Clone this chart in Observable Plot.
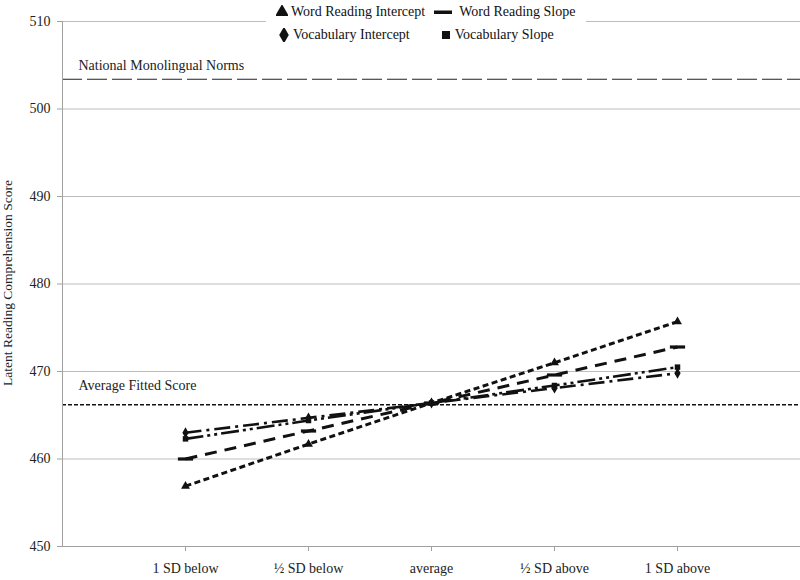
<!DOCTYPE html>
<html>
<head>
<meta charset="utf-8">
<script src="https://cdn.jsdelivr.net/npm/d3@7"></script>
<script src="https://cdn.jsdelivr.net/npm/@observablehq/plot@0.6"></script>
<style>
  html, body { margin: 0; padding: 0; background: #fff; }
  #wrap { position: relative; width: 800px; height: 580px; font-family: "Liberation Serif", serif; }
  #legend { position: absolute; left: 266px; top: 0px; width: 320px; background: #fff; font-size: 14px; color: #111; line-height: 23px; font-family: "Liberation Serif", serif; }
  #legend .row { display: flex; white-space: nowrap; }
  #legend .item { display: flex; align-items: center; }
  #legend svg { margin-right: 3px; }
  #chart svg, #chart svg text { font-family: "Liberation Serif", serif !important; }
</style>
</head>
<body>
<div id="wrap">
  <div id="chart"></div>
  <div id="legend"></div>
</div>
<script>
const categories = ["1 SD below", "½ SD below", "average", "½ SD above", "1 SD above"];
const wordReadingIntercept = [456.9, 461.7, 466.4, 471.0, 475.7];
const wordReadingSlope = [460.0, 463.2, 466.4, 469.6, 472.8];
const vocabularyIntercept = [463.0, 464.7, 466.4, 468.1, 469.8];
const vocabularySlope = [462.3, 464.4, 466.4, 468.4, 470.5];
const nationalNorms = 503.4;
const averageFitted = 466.2;
const yTicks = [450, 460, 470, 480, 490, 500, 510];

const barSymbol = { draw(ctx, size) { const w = Math.sqrt(size) * 1.3, h = 1.6; ctx.moveTo(-w, -h); ctx.lineTo(w, -h); ctx.lineTo(w, h); ctx.lineTo(-w, h); ctx.closePath(); } };

const series = [
  { name: "Word Reading Intercept", values: wordReadingIntercept, dash: "6,3.5", width: 3, symbol: "triangle", r: 3.3 },
  { name: "Word Reading Slope", values: wordReadingSlope, dash: "12,8", width: 3, symbol: barSymbol, r: 3.3 },
  { name: "Vocabulary Intercept", values: vocabularyIntercept, dash: "16,5,3,5", width: 2.6, symbol: "diamond", r: 3.3 },
  { name: "Vocabulary Slope", values: vocabularySlope, dash: "18,4,3,4,3,4", width: 2.6, symbol: "square", r: 3.1 }
];

const rows = series.flatMap(s => s.values.map((v, i) => ({ series: s.name, cat: categories[i], value: v })));

const marks = [
  Plot.gridY(yTicks, { stroke: "#bdbdbd", strokeOpacity: 1, strokeWidth: 1 }),
  Plot.ruleY([450], { stroke: "#a0a0a0" }),
  Plot.axisY(yTicks, { tickSize: 5, tickPadding: 7, stroke: "#a0a0a0", fill: "#222", fontSize: 14, label: null }),
  Plot.axisX({ tickSize: 5, tickPadding: 12, stroke: "#a0a0a0", fill: "#222", fontSize: 14, label: null }),
  Plot.ruleY([nationalNorms], { stroke: "#222", strokeWidth: 1.2, strokeDasharray: "20,5" }),
  Plot.ruleY([averageFitted], { stroke: "#111", strokeWidth: 1.5, strokeDasharray: "4,2" }),
  Plot.text(["National Monolingual Norms"], { y: [nationalNorms], frameAnchor: "left", dx: 16, dy: -14, textAnchor: "start", fontSize: 14, fill: "#222" }),
  Plot.text(["Average Fitted Score"], { y: [averageFitted], frameAnchor: "left", dx: 16, dy: -19, textAnchor: "start", fontSize: 14, fill: "#222" })
];
for (const s of series) {
  const d = rows.filter(r => r.series === s.name);
  marks.push(Plot.line(d, { x: "cat", y: "value", stroke: "#111", strokeWidth: s.width, strokeDasharray: s.dash, strokeLinecap: "butt" }));
  marks.push(Plot.dot(d, { x: "cat", y: "value", symbol: () => s.symbol, r: s.r, fill: "#111", stroke: "none" }));
}

const chart = Plot.plot({
  width: 800,
  height: 580,
  marginLeft: 62,
  marginRight: 0,
  marginTop: 21,
  marginBottom: 34,
  style: { fontFamily: "'Liberation Serif', serif", fontSize: "14px", background: "#fff" },
  x: { type: "point", domain: categories, padding: 1, label: null },
  y: { domain: [450, 510], label: null },
  symbol: { type: "identity" },
  marks
});
document.getElementById("chart").appendChild(chart);

const svg = d3.select(chart);
const yS = chart.scale("y");
svg.append("line")
  .attr("x1", 62.5).attr("x2", 62.5)
  .attr("y1", yS.apply(510)).attr("y2", yS.apply(450))
  .attr("stroke", "#a0a0a0");
svg.append("text")
  .attr("transform", "translate(9,283) rotate(-90)")
  .attr("text-anchor", "middle")
  .attr("dominant-baseline", "middle")
  .attr("font-size", "13.5px")
  .attr("fill", "#222")
  .text("Latent Reading Comprehension Score");

const legendRows = [[series[0], series[1]], [series[2], series[3]]];
const leg = d3.select("#legend");
legendRows.forEach((pair, ri) => {
  const row = leg.append("div").attr("class", "row");
  pair.forEach((s, ci) => {
    const item = row.append("div").attr("class", "item").style("margin-left", ci === 0 ? (ri === 0 ? "10px" : "12px") : (ri === 0 ? "9px" : "30px"));
    const isBar = s.symbol === barSymbol;
    const w = isBar ? 18 : 12;
    const sv = item.append("svg").attr("width", w).attr("height", 14).style("margin-right", isBar ? "7px" : "3px");
    const sym = typeof s.symbol === "string" ? { triangle: d3.symbolTriangle, diamond: d3.symbolDiamond, square: d3.symbolSquare }[s.symbol] : null;
    if (sym) {
      sv.append("path").attr("transform", `translate(${w / 2},7)`).attr("d", d3.symbol(sym, s.symbol === "square" ? 64 : 80)()).attr("fill", "#111");
    } else {
      sv.append("rect").attr("x", 0).attr("y", 5.5).attr("width", 18).attr("height", 3.5).attr("fill", "#111");
    }
    item.append("span").text(s.name);
  });
});
</script>
</body>
</html>
